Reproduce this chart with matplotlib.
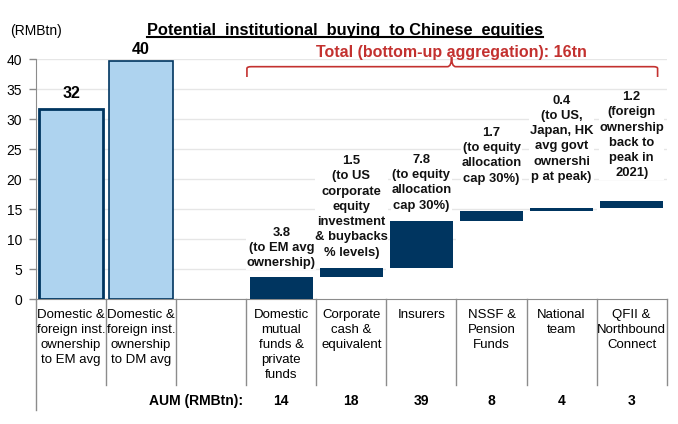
import matplotlib
matplotlib.use("Agg")
import matplotlib.pyplot as plt
from matplotlib.path import Path
from matplotlib.patches import PathPatch
from matplotlib.lines import Line2D
import matplotlib.transforms as mtransforms

plt.rcParams['font.family'] = ['Liberation Sans', 'DejaVu Sans']

categories = ["Domestic &\nforeign inst.\nownership\nto EM avg",
              "Domestic &\nforeign inst.\nownership\nto DM avg",
              "",
              "Domestic\nmutual\nfunds &\nprivate\nfunds",
              "Corporate\ncash &\nequivalent",
              "Insurers",
              "NSSF &\nPension\nFunds",
              "National\nteam",
              "QFII &\nNorthbound\nConnect"]
total_values = [31.8, 39.7]
total_labels = ["32", "40"]
buying = [3.8, 1.5, 7.8, 1.7, 0.4, 1.2]
buying_notes = ["(to EM avg\nownership)",
                "(to US\ncorporate\nequity\ninvestment\n& buybacks\n% levels)",
                "(to equity\nallocation\ncap 30%)",
                "(to equity\nallocation\ncap 30%)",
                "(to US,\nJapan, HK\navg govt\nownershi\np at peak)",
                "(foreign\nownership\nback to\npeak in\n2021)"]
aum = [14, 18, 39, 8, 4, 3]
total_text = "Total (bottom-up aggregation): 16tn"

navy = "#003560"
light = "#AED3EF"
red = "#C3312F"
gray = "#8C8C8C"

fig = plt.figure(figsize=(6.78, 4.24), dpi=100)
ax = fig.add_axes([36 / 678, 1 - 299.3 / 424, 630.7 / 678, 240 / 424])

# light blue total bars
label_gap = [1.3, 0.6]
for i, v in enumerate(total_values):
    ax.bar(i, v, width=0.92, color=light, edgecolor=navy,
           linewidth=2.0 if i == 0 else 1.2, zorder=3)
    ax.text(i, v + label_gap[i], total_labels[i], ha="center", va="bottom",
            fontsize=11.5, fontweight="bold", zorder=5)

# waterfall: white base hides gridlines, navy increment on top
xs = list(range(3, 3 + len(buying)))
bases = []
run = 0.0
for b in buying:
    bases.append(run)
    run += b
ax.bar(xs, bases, width=1.0, color="white", linewidth=0, zorder=2)
ax.bar(xs, buying, bottom=bases, width=0.9, color=navy, linewidth=0, zorder=3)

note_gap = [1.2, 1.5, 1.5, 4.3, 4.2, 3.6]
for x, base, b, note, g in zip(xs, bases, buying, buying_notes, note_gap):
    ax.text(x, base + b + g, f"{b:.1f}\n{note}", ha="center", va="bottom",
            fontsize=9.4, fontweight="bold", linespacing=1.36, zorder=2.5,
            color="#111111",
            bbox=dict(boxstyle="square,pad=0.03", fc="white", ec="none"))

ax.set_xlim(-0.5, len(categories) - 0.5)
ax.set_ylim(0, 40)
ax.set_yticks(range(0, 41, 5))
ax.set_xticks([])
ax.tick_params(axis="y", length=5, width=1, color=gray, pad=5, labelsize=10)
ax.yaxis.grid(True, color="#E6E6E6", linewidth=1, zorder=0)
ax.set_axisbelow(True)
for s in ["top", "right"]:
    ax.spines[s].set_visible(False)
ax.spines["left"].set_color(gray)
ax.spines["bottom"].set_color(gray)

# table under the axis
tr = mtransforms.blended_transform_factory(ax.transData, ax.transAxes)
ax.add_line(Line2D([-0.5, -0.5], [0, -0.461], transform=tr, color=gray,
                   linewidth=1, clip_on=False))
for k in range(len(categories)):
    xb = k + 0.5
    ax.add_line(Line2D([xb, xb], [0, -0.357], transform=tr, color=gray,
                       linewidth=1, clip_on=False))
for i, c in enumerate(categories):
    ax.text(i, -0.042, c, transform=tr, ha="center", va="top", fontsize=9.5,
            linespacing=1.32)

ax.text(2.45, -0.424, "AUM (RMBtn):", transform=tr, ha="right", va="center",
        fontsize=10, fontweight="bold")
for x, a in zip(xs, aum):
    ax.text(x, -0.424, str(a), transform=tr, ha="center", va="center",
            fontsize=10, fontweight="bold")

# red brace over the bottom-up bars
x0, x1, xm = 2.51, 8.37, 5.43
yb, yl, yt = 37.05, 38.77, 40.4
verts = [(x0, yb), (x0, yl - 0.3), (x0, yl), (x0 + 0.06, yl),
         (xm - 0.06, yl), (xm, yl), (xm, yt),
         (xm, yl), (xm + 0.06, yl),
         (x1 - 0.06, yl), (x1, yl), (x1, yl - 0.3), (x1, yb)]
codes = [Path.MOVETO, Path.LINETO, Path.CURVE3, Path.CURVE3,
         Path.LINETO, Path.CURVE3, Path.CURVE3,
         Path.CURVE3, Path.CURVE3,
         Path.LINETO, Path.CURVE3, Path.CURVE3, Path.LINETO]
ax.add_patch(PathPatch(Path(verts, codes), fill=False, ec=red, lw=1.2,
                       clip_on=False, zorder=4))
ax.text(xm, 41.1, total_text, ha="center", va="center", color=red,
        fontsize=11.5, fontweight="bold", zorder=6)

# title with underline
title = fig.text(345 / 678, 1 - 30.3 / 424,
                 "Potential  institutional  buying  to Chinese  equities",
                 ha="center", va="center", fontsize=11.8, fontweight="bold")
fig.text(10 / 678, 1 - 31 / 424, "(RMBtn)", ha="left", va="center", fontsize=10)

fig.canvas.draw()
bb = title.get_window_extent()
uy = 424 - 37.2
fig.add_artist(Line2D([bb.x0, bb.x1], [uy, uy], transform=None,
                      color="black", linewidth=1.5))

fig.savefig("out.png", dpi=100)
